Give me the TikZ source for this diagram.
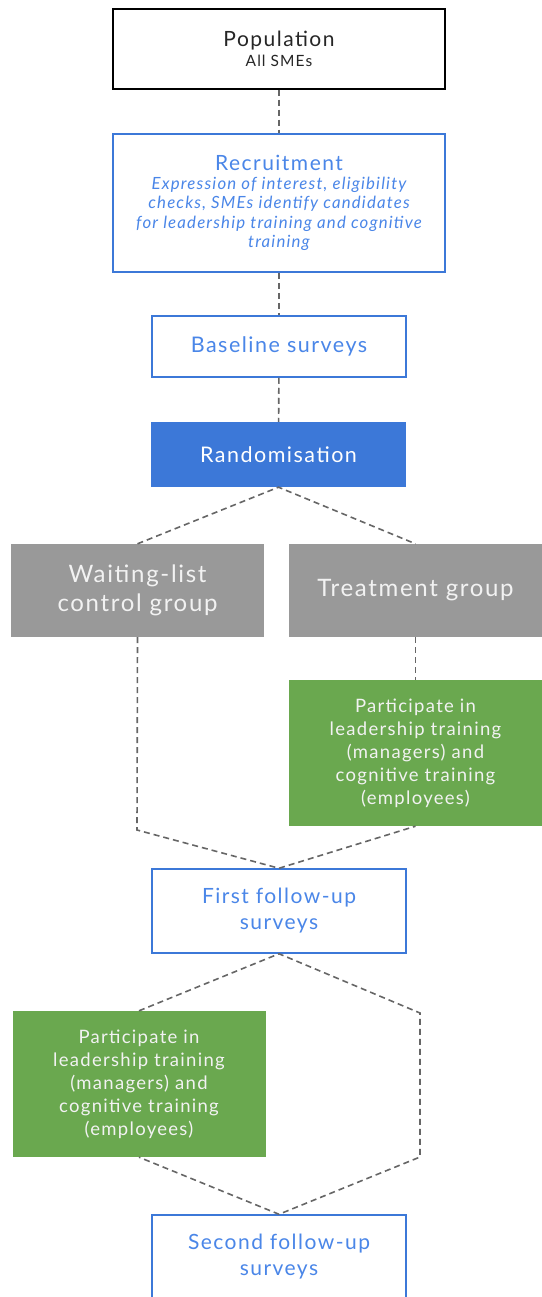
\documentclass[tikz,border=0pt]{standalone}
\usepackage{fontspec}
\setmainfont{Lato}[LetterSpace=7]
\definecolor{sBlue}{HTML}{3C78D8}
\definecolor{sBlueText}{HTML}{4A86E8}
\definecolor{sGrey}{HTML}{999999}
\definecolor{sGreen}{HTML}{6AA84F}
\definecolor{sLine}{HTML}{666666}
\usetikzlibrary{calc, positioning}

\begin{document}
\begin{tikzpicture}
		[x=1pt, y=-1pt,
		popbox/.style ={rectangle, draw=black, line width=1.5pt, fill=white, minimum width=332pt, minimum height=80pt, align=center, text=black!85},
		bluebox/.style ={rectangle, draw=sBlue, line width=1.5pt, fill=white, minimum width=254pt, align=center, text=sBlueText},
		randbox/.style ={rectangle, fill=sBlue, minimum width=255pt, minimum height=65pt, align=center, text=white},
		greybox/.style ={rectangle, fill=sGrey, minimum width=253pt, minimum height=93pt, align=center, text=white!95!black, font=\fontsize{24}{29}\selectfont},
		greenbox/.style ={rectangle, fill=sGreen, minimum width=253pt, minimum height=146pt, align=center, text=white!95!black, font=\fontsize{18.5}{23}\selectfont},
		link/.style ={sLine, line width=1.6pt, dash pattern=on 6pt off 4pt}]
		\useasboundingbox (0,0) rectangle (541,1297);

		\draw (279,49) node[popbox, font=\fontsize{21}{24}\selectfont] (pop) {Population\\[-4pt]\fontsize{15.5}{16}\selectfont All SMEs};
		\draw (279,203) node[bluebox, minimum width=332pt, minimum height=138pt, font=\fontsize{16.8}{19.6}\itshape\selectfont] (rec)
			{\fontsize{21}{24}\upshape\selectfont Recruitment\\[-1pt]
			Expression of interest, eligibility\\ checks, SMEs identify candidates\\ for leadership training and cognitive\\ training};
		\draw (279,346.5) node[bluebox, minimum height=61pt, font=\fontsize{21.5}{23}\selectfont] (base) {Baseline surveys};
		\draw (278.5,454.5) node[randbox, font=\fontsize{21.5}{23}\selectfont] (rand) {Randomisation};

		\draw (137.5,590.5) node[greybox] (wait) {Waiting-list\\ control group};
		\draw (415.5,590.5) node[greybox] (treat) {Treatment group};
		\draw (415.5,753) node[greenbox] (train1) {Participate in\\ leadership training\\ (managers) and\\ cognitive training\\ (employees)};

		\draw (279,911) node[bluebox, minimum height=84pt, font=\fontsize{21}{26}\selectfont] (fup1) {First follow-up\\ surveys};
		\draw (139,1084) node[greenbox] (train2) {Participate in\\ leadership training\\ (managers) and\\ cognitive training\\ (employees)};
		\draw (279,1257) node[bluebox, minimum height=84pt, font=\fontsize{21}{26}\selectfont] (fup2) {Second follow-up\\ surveys};

		% bends of the waiting-list branches
		\coordinate (wbend) at (137,830);
		\coordinate (rtop) at (420,1013);
		\coordinate (rbot) at (420,1157);

		\draw[link] (pop) -- (rec);
		\draw[link] (rec) -- (base);
		\draw[link] (base) -- (rand);
		\draw[link] (wait.north) -- (rand.south) -- (treat.north);
		\draw[link] (treat) -- (train1);
		\draw[link] (wait.south) -- (wbend) -- (fup1.north) -- (train1.south);
		\draw[link] (train2.north) -- (fup1.south) -- (rtop) -- (rbot) -- (fup2.north) -- (train2.south);
	\end{tikzpicture}
\end{document}
